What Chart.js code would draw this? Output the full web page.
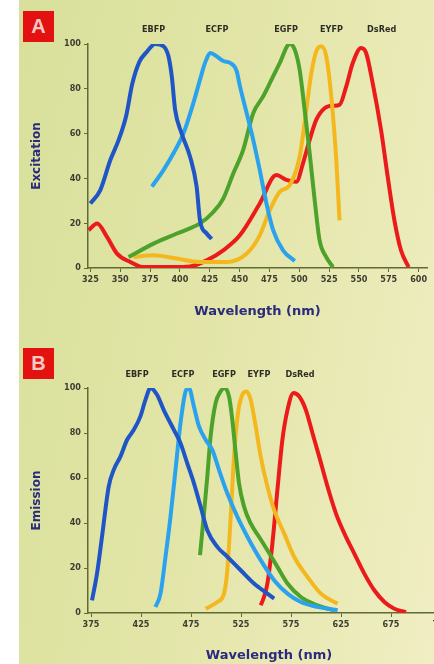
<!DOCTYPE html>
<html>
<head>
<meta charset="utf-8">
<script src="https://cdn.jsdelivr.net/npm/chart.js@4"></script>
<style>
  html, body { margin: 0; padding: 0; width: 434px; height: 664px; overflow: hidden; background: #fff; }
  #paper {
    position: absolute; left: 19px; top: 0; width: 415px; height: 664px;
    background: linear-gradient(100deg, #d8e09b 0%, #e2e5a7 45%, #f0eec3 100%);
  }
  canvas { position: absolute; left: 0; }
  .tag {
    position: absolute; left: 23px; width: 31px; height: 31px; background: #e3110f;
    color: #f6c9c4; font: bold 20px "Liberation Sans", Arial, sans-serif;
    text-align: center; line-height: 31px;
  }
</style>
</head>
<body>
<div id="paper"></div>
<div class="tag" style="top:11px">A</div>
<div class="tag" style="top:348px">B</div>
<canvas id="chartA" width="434" height="330" style="top:0"></canvas>
<canvas id="chartB" width="460" height="334" style="top:330px"></canvas>
<script>
// protein names and colours
const proteins = ["EBFP", "ECFP", "EGFP", "EYFP", "DsRed"];
const colors = ["#1f55c6", "#2ba2ee", "#4ca22a", "#f4b81e", "#ec1b1b"];

// where the names sit, in nm
const namePosA = [378, 431, 489, 527, 569];
const namePosB = [421, 467, 508, 543, 584];

// tick labels
const ticksA = [325, 350, 375, 400, 425, 450, 475, 500, 525, 550, 575, 600];
const ticksB = [375, 425, 475, 525, 575, 625, 675, 725];
const yTicks = [0, 20, 40, 60, 80, 100];

// A: excitation spectra [wavelength, %]
const ebfpEx = [[325,28.8],[333.3,34.8],[341.7,48.2],[348.7,57.2],[355,68],[360,82],[366,92],[372.3,96.5],[379.3,100],[386.2,99],[390.4,94.5],[393.2,85.5],[396,70.6],[401.5,60],[408.5,49.7],[414,36.3],[416.8,21.3],[422.4,15.4],[426.6,13]];
const ecfpEx = [[376.5,36.3],[386.2,43.7],[394.6,51.2],[402.9,60],[411.3,73.7],[416.8,84],[421,91.5],[425.7,96],[430.8,94.5],[436.3,92.4],[441.9,91.6],[447.5,88],[450.2,81.3],[455.8,69.4],[461.4,57.2],[466.9,43.7],[472.5,28.8],[478.1,16.9],[486.4,7.9],[496.2,3.1]];
const egfpEx = [[357,4.9],[377.9,10.9],[397.4,15.4],[416.8,19.9],[428,25],[436.3,31],[444.7,42.2],[453,52.7],[461.4,69.1],[469.7,76.6],[475.3,82.5],[483.6,91.5],[492,100],[496.2,97.5],[500.3,88.5],[504.5,70.6],[508.7,51.2],[512.9,30.3],[517,12.4],[522.6,4.9],[528.2,0.4]];
const eyfpEx = [[361.2,4.9],[377.9,5.7],[397.4,4.2],[416.8,2.7],[439.1,2.7],[455.8,6.4],[466.9,14.6],[475.3,25.8],[483.6,34],[492,37],[500.3,49.7],[505.9,70.6],[510.1,87],[514.2,96.7],[518.4,99],[522.6,94.5],[526.8,76.6],[531,48.2],[533.7,21.3]];
const dsredEx = [[323.6,16.9],[330.6,19.9],[338.9,13.9],[347.3,6.4],[358.4,2.7],[369.5,0.4],[394.6,0.4],[408.5,0.7],[422.4,3.4],[436.3,7.9],[450.2,14.6],[466.9,28.8],[480.8,41.5],[489.2,39.3],[497.5,38.5],[503.1,46.7],[508.7,57.2],[514.2,66.1],[521.2,71.3],[528.2,72.4],[533.7,72.8],[539.3,81],[544.8,91.5],[551.8,98.2],[556,96],[561.5,82.5],[568.5,61.6],[574.1,40.7],[579.7,21.3],[585.2,7.9],[591.6,0.4]];

// B: emission spectra [wavelength, %]
const ebfpEm = [[376,5.6],[381,17.5],[386,33.9],[392.7,56.2],[397.7,63.6],[404.4,69.5],[411.1,77],[417.8,81.4],[424.4,87.4],[429.5,94.8],[434.5,100],[441.2,96.9],[447.8,90.2],[457.9,81.4],[464.5,75.5],[471.2,66.6],[477.9,57.7],[484.6,47.3],[491.3,36.8],[501.3,29.4],[511.3,25],[524.7,19],[538,13.1],[551.4,8.6],[558.1,6.4]];
const ecfpEm = [[439.5,2.7],[444.5,8.6],[449.5,25],[454.5,42.8],[459.5,63.6],[464.5,84.4],[469.6,98.5],[472.9,100],[477.9,91.8],[483,82.9],[489.6,77],[496.3,72.5],[503,63.6],[511.3,53.2],[521.3,42.8],[531.4,33.9],[544.7,23.5],[558.1,14.6],[571.5,8.6],[584.8,4.9],[601.5,2.7],[621.6,1.2]];
const egfpEm = [[484,25.7],[488,44.3],[491.3,60.6],[494.6,78.5],[499.6,93.3],[504.6,98.5],[508.6,100],[513,96.3],[516.3,85.9],[519.7,71],[523,57.7],[528,47.3],[534.7,39.8],[543,33.9],[551.4,27.9],[561.4,20.5],[571.5,13.1],[584.8,7.1],[601.5,3.4],[617.9,1.2]];
const eyfpEm = [[489.6,1.9],[501.3,4.9],[508,8.6],[511.3,19],[514.7,42.8],[518,69.5],[522,88.9],[526.3,97],[530.4,98.5],[534.7,94.8],[539.7,82.9],[544.7,69.5],[551.4,56.2],[558.1,45.8],[568.1,35.4],[578.1,25],[591.5,16],[604.9,8.6],[618.2,4.9],[621.6,4.2]];
const dsredEm = [[544.7,3.4],[548,7.1],[551.4,13.1],[556.4,30.9],[561.4,54.7],[566.4,77],[571.5,90.3],[577.5,97.8],[583.1,96.3],[589.8,90.3],[596.5,79.9],[603.2,69.5],[611.5,56.2],[619.9,44.3],[628.3,35.4],[638.3,26.4],[648.3,17.5],[658.3,10.1],[668.4,4.9],[678.4,1.9],[690,0.4]];

const axisColor = "#5f6a34";
const tickFont = { family: "'DejaVu Sans Condensed', 'Liberation Sans Narrow', sans-serif", size: 9, weight: "bold" };
const titleColor = "#2b2a7c";

// draws the protein names above the plot
const seriesNames = {
  id: "seriesNames",
  afterDraw(chart, args, opts) {
    const { ctx, chartArea, scales } = chart;
    ctx.save();
    ctx.font = "bold 9px 'DejaVu Sans Condensed', 'Liberation Sans Narrow', sans-serif";
    ctx.fillStyle = "#2d2d24";
    ctx.textAlign = "center";
    ctx.textBaseline = "middle";
    opts.names.forEach((n, i) => {
      ctx.fillText(n, scales.x.getPixelForValue(opts.at[i]), chartArea.top - opts.gap);
    });
    ctx.restore();
  },
};

function makeDatasets(series) {
  return series.map((pts, i) => ({
    label: proteins[i],
    data: pts.map(([x, y]) => ({ x, y })),
    borderColor: colors[i],
    borderWidth: 4,
    pointRadius: 0,
    tension: 0.35,
    cubicInterpolationMode: "monotone",
    fill: false,
  }));
}

function makeChart(id, series, opt) {
  return new Chart(document.getElementById(id), {
    type: "line",
    data: { datasets: makeDatasets(series) },
    plugins: [seriesNames],
    options: {
      responsive: false,
      animation: false,
      layout: { padding: { left: 19, top: opt.top, right: opt.right, bottom: 0 } },
      plugins: {
        legend: { display: false },
        tooltip: { enabled: false },
        seriesNames: { names: proteins, at: opt.namePos, gap: opt.nameGap },
      },
      scales: {
        x: {
          type: "linear",
          min: opt.xMin,
          max: opt.xMax,
          afterBuildTicks: (s) => { s.ticks = opt.xTicks.map((v) => ({ value: v })); },
          afterFit: (s) => { s.height = opt.xHeight; },
          border: { display: true, color: axisColor, width: 1.5 },
          grid: { drawOnChartArea: false, drawTicks: true, tickLength: 4, color: axisColor },
          ticks: { font: tickFont, color: "#3d3d30", padding: 2, maxRotation: 0, autoSkip: false },
          title: {
            display: true,
            text: "Wavelength (nm)",
            color: titleColor,
            font: { family: "'DejaVu Sans', sans-serif", size: 13, weight: "bold" },
            padding: { top: 0, bottom: opt.xTitlePad },
          },
        },
        y: {
          min: 0,
          max: 100,
          afterBuildTicks: (s) => { s.ticks = yTicks.map((v) => ({ value: v })); },
          afterFit: (s) => { s.width = 69; },
          border: { display: true, color: axisColor, width: 1.5 },
          grid: { drawOnChartArea: false, drawTicks: true, tickLength: 4, color: axisColor },
          ticks: { font: tickFont, color: "#3d3d30", padding: 3 },
          title: {
            display: true,
            text: opt.yTitle,
            color: titleColor,
            font: { family: "'DejaVu Sans', sans-serif", size: 12, weight: "bold" },
            padding: { top: 11, bottom: 0 },
          },
        },
      },
    },
  });
}

makeChart("chartA", [ebfpEx, ecfpEx, egfpEx, eyfpEx, dsredEx], {
  top: 44, right: 7, xMin: 323, xMax: 607, xTicks: ticksA, xHeight: 62, xTitlePad: 11,
  namePos: namePosA, nameGap: 14, yTitle: "Excitation",
});

makeChart("chartB", [ebfpEm, ecfpEm, egfpEm, eyfpEm, dsredEm], {
  top: 58, right: 10, xMin: 372, xMax: 734, xTicks: ticksB, xHeight: 51, xTitlePad: 1,
  namePos: namePosB, nameGap: 13, yTitle: "Emission",
});
</script>
</body>
</html>
